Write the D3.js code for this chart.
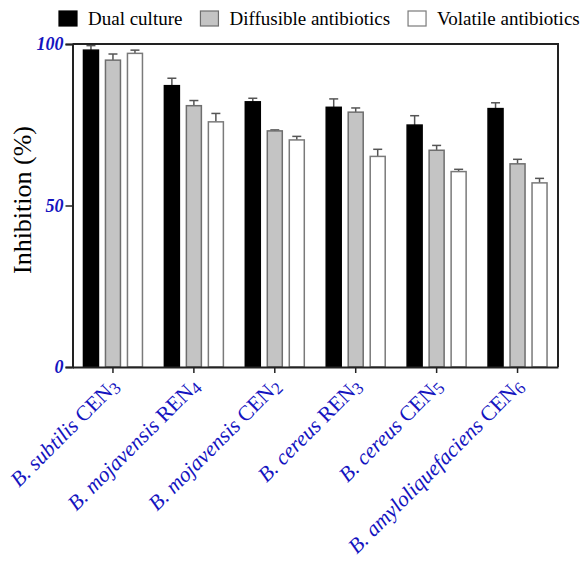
<!DOCTYPE html>
<html>
<head>
<meta charset="utf-8">
<script src="https://cdn.jsdelivr.net/npm/d3@7"></script>
<style>
  html, body { margin: 0; padding: 0; background: #fff; }
  svg { display: block; }
</style>
</head>
<body>
<svg id="chart" width="583" height="562" font-family="Liberation Serif, Times New Roman, serif"></svg>
<script>
// Strains tested: italic species name, upright strain code, subscript digit
const speciesNames = ["B. subtilis", "B. mojavensis", "B. mojavensis", "B. cereus", "B. cereus", "B. amyloliquefaciens"];
const strainCodes = ["CEN", "REN", "CEN", "REN", "CEN", "CEN"];
const strainNumbers = ["3", "4", "2", "3", "5", "6"];
const categories = speciesNames.map((s, i) => s + " " + strainCodes[i] + strainNumbers[i]);

// Inhibition methods
const seriesNames = ["Dual culture", "Diffusible antibiotics", "Volatile antibiotics"];

// Mean inhibition (%) for each strain
const dualCulture = [98.1, 87.1, 82.1, 80.4, 74.9, 80.0];
const diffusible = [95.0, 80.9, 73.1, 78.9, 67.1, 62.9];
const volatile = [97.1, 75.9, 70.3, 65.2, 60.5, 57.0];

// Standard errors
const dualCultureErr = [1.4, 2.3, 1.1, 2.6, 2.9, 1.8];
const diffusibleErr = [1.9, 1.6, 0.3, 1.3, 1.5, 1.4];
const volatileErr = [1.0, 2.6, 1.1, 2.2, 0.7, 1.4];

const yTicks = [0, 50, 100];

const seriesValues = [dualCulture, diffusible, volatile];
const seriesErrors = [dualCultureErr, diffusibleErr, volatileErr];
const fills = ["#000000", "#c4c4c4", "#ffffff"];
const strokes = ["#000000", "#6e6e6e", "#7a7a7a"];
const blue = "#1414bf";
const serif = "'Liberation Serif', 'Times New Roman', serif";

const svg = d3.select("#chart");
const plot = { left: 72.5, right: 558, top: 44, bottom: 367 };

const x = d3.scaleBand().domain(categories).range([plot.left, plot.right]);
const xInner = d3.scaleBand().domain(seriesNames).range([-29.5, 29.5]).paddingInner(0.318);
const y = d3.scaleLinear().domain([0, 100]).range([plot.bottom, plot.top]);

// Bars with upward error bars
const rows = [];
categories.forEach((c, i) => {
  seriesNames.forEach((s, j) => {
    rows.push({ c, s, j, v: seriesValues[j][i], e: seriesErrors[j][i] });
  });
});
const barX = d => x(d.c) + x.bandwidth() / 2 + xInner(d.s);
const barMid = d => barX(d) + xInner.bandwidth() / 2;

const groups = svg.append("g").selectAll("g.bar").data(rows).join("g").attr("class", "bar");

groups.append("line")
  .attr("x1", barMid).attr("x2", barMid)
  .attr("y1", d => y(d.v))
  .attr("y2", d => y(d.v + d.e))
  .attr("stroke", "#555").attr("stroke-width", 1.5);

groups.append("line")
  .attr("x1", d => barMid(d) - 4.5)
  .attr("x2", d => barMid(d) + 4.5)
  .attr("y1", d => y(d.v + d.e))
  .attr("y2", d => y(d.v + d.e))
  .attr("stroke", "#555").attr("stroke-width", 1.5);

groups.append("rect")
  .attr("x", barX)
  .attr("width", xInner.bandwidth())
  .attr("y", d => y(d.v))
  .attr("height", d => y(0) - y(d.v))
  .attr("fill", d => fills[d.j])
  .attr("stroke", d => strokes[d.j])
  .attr("stroke-width", 1.5);

// Frame: top and right edges
svg.append("path")
  .attr("d", `M${plot.left},${plot.top}H${plot.right}V${plot.bottom}`)
  .attr("fill", "none").attr("stroke", "#222").attr("stroke-width", 2);

// Y axis
const yAxis = svg.append("g")
  .attr("transform", `translate(${plot.left},0)`)
  .call(d3.axisLeft(y).tickValues(yTicks).tickSize(7).tickPadding(2).tickFormat(d3.format("d")));
yAxis.attr("font-family", null);
yAxis.select(".domain").attr("stroke", "#222").attr("stroke-width", 2);
yAxis.selectAll(".tick line").attr("stroke", "#222").attr("stroke-width", 1.5);
yAxis.selectAll(".tick text")
  .attr("fill", blue)
  .style("font-family", serif)
  .style("font-size", "18px")
  .style("font-weight", "bold")
  .style("font-style", "italic");

// X axis
const xAxis = svg.append("g")
  .attr("transform", `translate(0,${plot.bottom})`)
  .call(d3.axisBottom(x).tickSize(6).tickSizeOuter(0).tickFormat(""));
xAxis.select(".domain").attr("stroke", "#222").attr("stroke-width", 2);
xAxis.selectAll(".tick line").attr("stroke", "#222").attr("stroke-width", 1.5);

// Rotated strain labels
const xLabels = svg.append("g").selectAll("text").data(categories).join("text")
  .attr("transform", d => `translate(${x(d) + x.bandwidth() / 2 + 7},${plot.bottom + 20}) rotate(-45)`)
  .attr("text-anchor", "end")
  .attr("fill", blue)
  .style("font-family", serif)
  .style("font-size", "21.5px");
xLabels.append("tspan").style("font-style", "italic").text((d, i) => speciesNames[i] + " ");
xLabels.append("tspan").text((d, i) => strainCodes[i]);
xLabels.append("tspan").style("font-size", "17px").attr("dy", 3).text((d, i) => strainNumbers[i]);

// Y axis title
svg.append("text")
  .attr("transform", "translate(31,200) rotate(-90)")
  .attr("text-anchor", "middle")
  .attr("fill", "#000")
  .style("font-family", serif)
  .style("font-size", "26px")
  .text("Inhibition (%)");

// Legend
const legend = svg.append("g");
let lx = 59;
seriesNames.forEach((s, j) => {
  legend.append("rect")
    .attr("x", lx).attr("y", 11).attr("width", 18).attr("height", 15)
    .attr("fill", fills[j]).attr("stroke", strokes[j]).attr("stroke-width", 1.2);
  const t = legend.append("text")
    .attr("x", lx + 29).attr("y", 25)
    .attr("fill", "#000")
    .style("font-family", serif)
    .style("font-size", "19px")
    .text(s);
  lx += 29 + t.node().getComputedTextLength() + 18;
});
</script>
</body>
</html>
